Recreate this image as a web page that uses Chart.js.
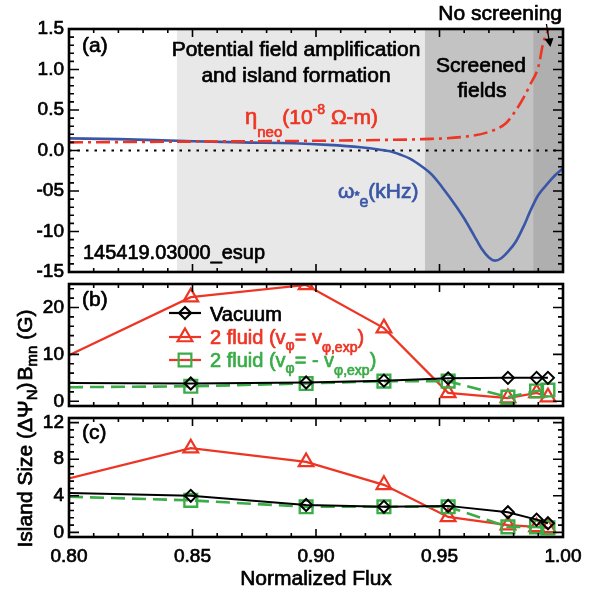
<!DOCTYPE html>
<html><head><meta charset="utf-8">
<script src="https://cdn.jsdelivr.net/npm/chart.js@4.4.1/dist/chart.umd.min.js"></script>
<style>
html,body{margin:0;padding:0;background:#fff;}
#wrap{position:relative;width:590px;height:596px;overflow:hidden;}
canvas{position:absolute;left:0;top:0;}
</style></head><body>
<div id="wrap">
<canvas id="ca" width="590" height="596"></canvas>
<canvas id="cb" width="590" height="596"></canvas>
<canvas id="cc" width="590" height="596"></canvas>
</div>
<script>
// ---------------- data ----------------
const omegaFlux = [0.800,0.820,0.844,0.870,0.891,0.905,0.918,0.926,0.930,0.934,0.938,0.943,0.947,0.951,0.957,0.960,0.964,0.967,0.970,0.9725,0.975,0.978,0.981,0.984,0.987,0.990,0.994,0.997,1.000];
const omegaVal  = [0.15,0.14,0.12,0.10,0.09,0.07,0.04,0.01,-0.01,-0.05,-0.10,-0.20,-0.30,-0.45,-0.70,-0.84,-1.05,-1.21,-1.32,-1.36,-1.33,-1.24,-1.12,-0.94,-0.73,-0.55,-0.40,-0.30,-0.22];
const etaFlux = [0.800,0.850,0.900,0.926,0.943,0.960,0.970,0.977,0.981,0.984,0.987,0.990,0.992,0.994];
const etaVal  = [0.10,0.11,0.12,0.13,0.14,0.17,0.23,0.34,0.50,0.65,0.83,1.03,1.33,1.49];
const zeroLine = [0.0, 0.0];
const regionStart = [0.8437, 0.9441, 0.9879];
const regionEnd   = [0.9441, 0.9879, 1.0];

const fluxPts   = [0.800, 0.8493, 0.896, 0.9275, 0.9535, 0.9777, 0.9893, 0.9939];
const bVacuum   = [3.9, 3.8, 4.0, 4.4, 4.9, 5.0, 5.0, 5.0];
const bFluidPos = [9.8, 22.2, 24.8, 15.6, 1.8, 0.7, 1.8, 0.9];
const bFluidNeg = [3.0, 3.2, 3.8, 4.3, 4.3, 0.9, 2.2, 2.4];
const wVacuum   = [4.3, 4.0, 3.0, 2.8, 2.9, 2.2, 1.4, 1.0];
const wFluidPos = [5.9, 9.2, 7.7, 5.2, 1.7, 0.8, 0.6, 0.5];
const wFluidNeg = [3.9, 3.5, 2.8, 2.8, 2.8, 0.6, 0.6, 0.5];

const xTicks = [0.80, 0.85, 0.90, 0.95, 1.00];
const xTickLabels = ['0.80', '0.85', '0.90', '0.95', '1.00'];
const yTicksA = [1.5, 1.0, 0.5, 0.0, -0.5, -1.0, -1.5];
const yTickLabelsA = ['1.5', '1.0', '0.5', '0.0', '-05', '-10', '-15'];
const yTicksB = [0, 10, 20];
const yTickLabelsB = ['0', '10', '20'];
const yTicksC = [0, 4, 8, 12];
const yTickLabelsC = ['0', '4', '8', '12'];

// ---------------- styling ----------------
const FAM = "'Liberation Sans', Arial, Helvetica, sans-serif";
const RED = '#ee3524', GREEN = '#3aac48', BLUE = '#3a56a6', BLACK = '#000';
const REGION_COLORS = ['#e8e8e8', '#c3c3c3', '#afafaf'];
const STROKE = 0.7;
Chart.defaults.font.family = FAM;
Chart.defaults.color = '#000';

function drawRuns(ctx, x, y, runs, opts) {
  opts = opts || {};
  let w = 0;
  runs.forEach(r => { ctx.font = `${r.s}px ${FAM}`; r.w = ctx.measureText(r.t).width; w += r.w; });
  const sx = opts.width ? opts.width / w : 1;
  ctx.save();
  ctx.translate(x, y);
  if (opts.rot) ctx.rotate(opts.rot);
  ctx.scale(sx, 1);
  let cx = opts.align === 'center' ? -w / 2 : (opts.align === 'right' ? -w : 0);
  ctx.textBaseline = 'alphabetic';
  ctx.textAlign = 'left';
  ctx.fillStyle = opts.color || '#000';
  ctx.strokeStyle = opts.color || '#000';
  ctx.lineWidth = STROKE;
  ctx.lineJoin = 'round';
  runs.forEach(r => {
    ctx.font = `${r.s}px ${FAM}`;
    ctx.fillText(r.t, cx, r.dy || 0);
    ctx.strokeText(r.t, cx, r.dy || 0);
    cx += r.w;
  });
  ctx.restore();
}

function yScale(min, max, ticks, labels) {
  return {
    type: 'linear', min: min, max: max,
    grid: { display: false, drawTicks: false }, border: { display: false },
    afterBuildTicks: s => { s.ticks = ticks.map(v => ({ value: v })); },
    afterFit: s => { s.width = 69; },
    ticks: { padding: 5, color: '#000', font: { size: 19 }, textStrokeColor: '#000', textStrokeWidth: STROKE,
      callback: v => { const i = ticks.indexOf(v); return i >= 0 ? labels[i] : ''; } }
  };
}
const xHidden = { type: 'linear', min: 0.8, max: 1.0, display: false };

function framePlugin(yMajor, yMinorStep) {
  return { id: 'frame', afterDatasetsDraw(chart) {
    const { ctx, chartArea: a, scales: { x, y } } = chart;
    ctx.save();
    ctx.strokeStyle = '#000'; ctx.lineWidth = 1.6;
    ctx.beginPath();
    for (let k = 0; k <= 20; k++) {
      const v = 0.8 + k * 0.01, px = x.getPixelForValue(v), L = (k % 5 === 0) ? 8 : 4;
      ctx.moveTo(px, a.top); ctx.lineTo(px, a.top + L);
      ctx.moveTo(px, a.bottom); ctx.lineTo(px, a.bottom - L);
    }
    const start = Math.ceil(y.min / yMinorStep - 1e-9);
    for (let k = start; k * yMinorStep <= y.max + 1e-9; k++) {
      const v = k * yMinorStep, py = y.getPixelForValue(v);
      const L = yMajor.some(m => Math.abs(m - v) < 1e-6) ? 10 : 5;
      ctx.moveTo(a.left, py); ctx.lineTo(a.left + L, py);
      ctx.moveTo(a.right, py); ctx.lineTo(a.right - L, py);
    }
    ctx.stroke();
    ctx.lineWidth = 2.6;
    ctx.strokeRect(a.left, a.top, a.right - a.left, a.bottom - a.top);
    ctx.restore();
  }};
}

const common = {
  responsive: false, animation: false, events: [],
  plugins: { legend: { display: false }, tooltip: { enabled: false } }
};

// ---------------- panel (a) ----------------
const regionPlugin = { id: 'regions', beforeDatasetsDraw(chart) {
  const { ctx, chartArea: a, scales: { x } } = chart;
  ctx.save();
  regionStart.forEach((s, i) => {
    const x0 = x.getPixelForValue(s), x1 = x.getPixelForValue(regionEnd[i]);
    ctx.fillStyle = REGION_COLORS[i];
    ctx.fillRect(x0, a.top, x1 - x0, a.bottom - a.top);
  });
  ctx.restore();
}};
const textA = { id: 'textA', afterDraw(chart) {
  const { ctx, chartArea: a, scales: { x } } = chart;
  drawRuns(ctx, a.left + 13, a.top + 23, [{ t: '(a)', s: 21 }]);
  drawRuns(ctx, 296, 56, [{ t: 'Potential field amplification', s: 21 }], { align: 'center' });
  drawRuns(ctx, 296, 82, [{ t: 'and island formation', s: 21 }], { align: 'center' });
  drawRuns(ctx, 481, 72, [{ t: 'Screened', s: 21 }], { align: 'center' });
  drawRuns(ctx, 482, 97, [{ t: 'fields', s: 21 }], { align: 'center' });
  drawRuns(ctx, 245, 124, [{ t: 'η', s: 22 }, { t: 'neo', s: 15, dy: 13 }, { t: '(10', s: 21 }, { t: '-8', s: 14, dy: -10 }, { t: ' Ω-m)', s: 21 }], { color: RED });
  drawRuns(ctx, 338, 198, [{ t: 'ω', s: 21 }, { t: '*', s: 13, dy: 2 }, { t: 'e', s: 16, dy: 9 }, { t: '(kHz)', s: 21 }], { color: BLUE });
  drawRuns(ctx, 83, 259, [{ t: '145419.03000_esup', s: 21 }], { width: 182 });
  drawRuns(ctx, 562, 20, [{ t: 'No screening', s: 21 }], { align: 'right' });
  // small arrow from label to the curve end
  const tx = x.getPixelForValue(0.9945), ty = a.top + 17;
  ctx.save();
  ctx.strokeStyle = '#000'; ctx.fillStyle = '#000'; ctx.lineWidth = 1.3;
  ctx.beginPath(); ctx.moveTo(tx - 3, 24); ctx.lineTo(tx, ty - 4); ctx.stroke();
  ctx.beginPath(); ctx.moveTo(tx + 1, ty + 1); ctx.lineTo(tx - 5, ty - 7); ctx.lineTo(tx + 4, ty - 8); ctx.closePath(); ctx.fill();
  ctx.restore();
}};

new Chart(document.getElementById('ca'), {
  type: 'line',
  data: { datasets: [
    { data: omegaFlux.map((f, i) => ({ x: f, y: omegaVal[i] })), borderColor: BLUE, borderWidth: 2.6, pointRadius: 0, cubicInterpolationMode: 'monotone', order: 1 },
    { data: etaFlux.map((f, i) => ({ x: f, y: etaVal[i] })), borderColor: RED, borderWidth: 2.6, borderDash: [14, 5, 3, 5], pointRadius: 0, cubicInterpolationMode: 'monotone', order: 0 },
    { data: [{ x: 0.8, y: zeroLine[0] }, { x: 1.0, y: zeroLine[1] }], borderColor: BLACK, borderWidth: 2.2, borderDash: [2.5, 6], pointRadius: 0, order: 2 }
  ]},
  options: Object.assign({}, common, {
    layout: { padding: { top: 29, right: 27, bottom: 324, left: 0 } },
    scales: { x: xHidden, y: yScale(-1.5, 1.5, yTicksA, yTickLabelsA) }
  }),
  plugins: [regionPlugin, framePlugin(yTicksA, 0.1), textA]
});

// ---------------- panels (b) and (c) ----------------
function seriesSets(vac, pos, neg) {
  const pts = arr => fluxPts.map((f, i) => ({ x: f, y: arr[i] }));
  const rad = r => fluxPts.map((f, i) => i === 0 ? 0 : r);
  return [
    { data: pts(vac), borderColor: BLACK, borderWidth: 2, pointStyle: 'rectRot', pointRadius: rad(6),
      pointBorderColor: BLACK, pointBackgroundColor: 'rgba(0,0,0,0)', pointBorderWidth: 2, order: 0 },
    { data: pts(neg), borderColor: GREEN, borderWidth: 2.6, borderDash: [14, 7], pointStyle: 'rect', pointRadius: rad(9),
      pointBorderColor: GREEN, pointBackgroundColor: 'rgba(0,0,0,0)', pointBorderWidth: 2.4, order: 1 },
    { data: pts(pos), borderColor: RED, borderWidth: 2.2, pointStyle: 'triangle', pointRadius: rad(8.5),
      pointBorderColor: RED, pointBackgroundColor: 'rgba(0,0,0,0)', pointBorderWidth: 2.2, order: 2 }
  ];
}

function marker(ctx, style, r, px, py) {
  ctx.beginPath();
  if (style === 'rectRot') { ctx.moveTo(px - r, py); ctx.lineTo(px, py - r); ctx.lineTo(px + r, py); ctx.lineTo(px, py + r); ctx.closePath(); }
  else if (style === 'rect') { const s = r * Math.SQRT1_2; ctx.rect(px - s, py - s, 2 * s, 2 * s); }
  else { ctx.moveTo(px, py - r); ctx.lineTo(px + r * 0.866, py + r / 2); ctx.lineTo(px - r * 0.866, py + r / 2); ctx.closePath(); }
  ctx.stroke();
}
function legendEntry(ctx, y, lineColor, style, mColor, r, runs, tColor, base) {
  ctx.save();
  ctx.strokeStyle = lineColor; ctx.lineWidth = 2.2;
  ctx.beginPath(); ctx.moveTo(169, y); ctx.lineTo(201, y); ctx.stroke();
  ctx.strokeStyle = mColor; ctx.lineWidth = 2.2;
  marker(ctx, style, r, 185, y);
  ctx.restore();
  drawRuns(ctx, 210, base, runs, { color: tColor });
}

const textB = { id: 'textB', afterDraw(chart) {
  const { ctx, chartArea: a } = chart;
  drawRuns(ctx, a.left + 13, 306, [{ t: '(b)', s: 21 }]);
  legendEntry(ctx, 313, BLACK, 'rectRot', BLACK, 6, [{ t: 'Vacuum', s: 20 }], BLACK, 321);
  legendEntry(ctx, 337, RED, 'triangle', RED, 8.5,
    [{ t: '2 fluid (v', s: 20 }, { t: 'φ', s: 14, dy: 6 }, { t: '= v', s: 20 }, { t: 'φ,exp', s: 14, dy: 8 }, { t: ')', s: 20 }], RED, 343.5);
  legendEntry(ctx, 360, RED, 'rect', GREEN, 9,
    [{ t: '2 fluid (v', s: 20 }, { t: 'φ', s: 14, dy: 6 }, { t: '= - v', s: 20 }, { t: 'φ,exp', s: 14, dy: 8 }, { t: ')', s: 20 }], GREEN, 367);
  drawRuns(ctx, 32, 345, [{ t: 'B', s: 21 }, { t: 'mn', s: 15, dy: 5 }, { t: ' (G)', s: 21 }], { rot: -Math.PI / 2, align: 'center' });
}};
const textC = { id: 'textC', afterDraw(chart) {
  const { ctx, chartArea: a } = chart;
  drawRuns(ctx, a.left + 13, 439, [{ t: '(c)', s: 21 }]);
  drawRuns(ctx, 32, 465, [{ t: 'Island Size (ΔΨ', s: 21 }, { t: 'N', s: 15, dy: 5 }, { t: ')', s: 21 }], { rot: -Math.PI / 2, align: 'center' });
  drawRuns(ctx, (a.left + a.right) / 2, 585, [{ t: 'Normalized Flux', s: 21 }], { align: 'center' });
}};

new Chart(document.getElementById('cb'), {
  type: 'line',
  data: { datasets: seriesSets(bVacuum, bFluidPos, bFluidNeg) },
  options: Object.assign({}, common, {
    layout: { padding: { top: 284, right: 27, bottom: 190, left: 0 } },
    scales: { x: xHidden, y: yScale(-1, 25, yTicksB, yTickLabelsB) }
  }),
  plugins: [framePlugin(yTicksB, 2), textB]
});

new Chart(document.getElementById('cc'), {
  type: 'line',
  data: { datasets: seriesSets(wVacuum, wFluidPos, wFluidNeg) },
  options: Object.assign({}, common, {
    layout: { padding: { top: 418, right: 27, bottom: 2, left: 0 } },
    scales: {
      x: { type: 'linear', min: 0.8, max: 1.0,
        grid: { display: false, drawTicks: false }, border: { display: false },
        afterBuildTicks: s => { s.ticks = xTicks.map(v => ({ value: v })); },
        afterFit: s => { s.height = 57; },
        ticks: { padding: 8, maxRotation: 0, autoSkip: false, color: '#000', font: { size: 19 },
          textStrokeColor: '#000', textStrokeWidth: STROKE,
          callback: v => { const i = xTicks.indexOf(v); return i >= 0 ? xTickLabels[i] : ''; } }
      },
      y: yScale(-0.5, 12.5, yTicksC, yTickLabelsC)
    }
  }),
  plugins: [framePlugin(yTicksC, 0.8), textC]
});
</script>
</body></html>
